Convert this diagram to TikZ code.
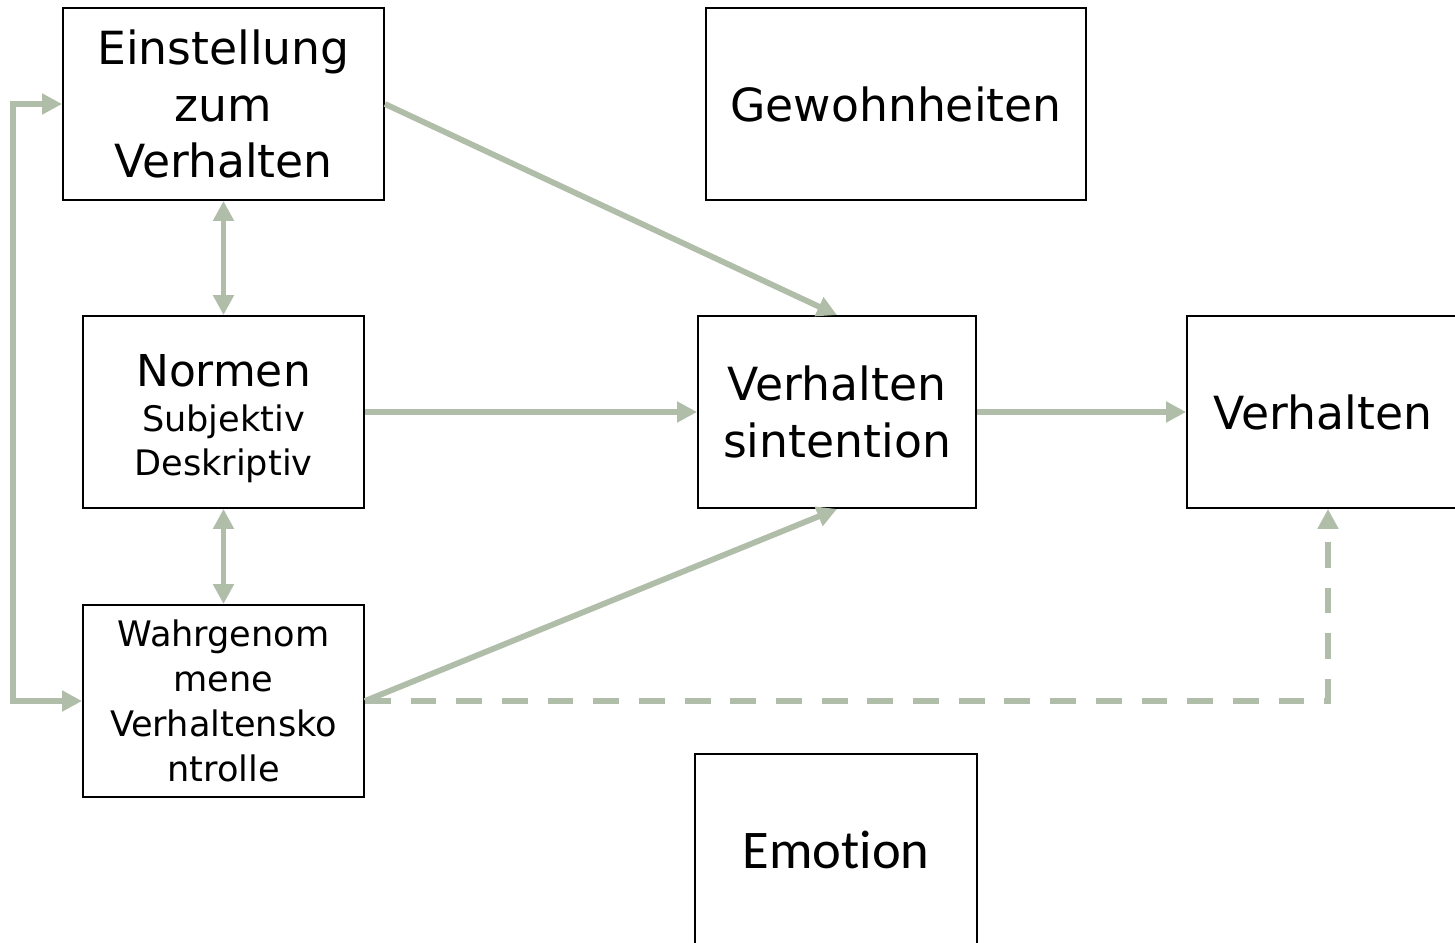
\documentclass[tikz,border=0pt]{standalone}
\usepackage{fontspec}
\setmainfont{DejaVu Sans}
\newfontfamily\emofont[Ligatures=NoCommon]{Carlito}
\usetikzlibrary{arrows.meta}
\definecolor{arrowgreen}{RGB}{176,189,168}

\begin{document}
\begin{tikzpicture}[x=0.02cm, y=-0.02cm]
    \tikzset{
        box/.style = {rectangle, draw, line width=1.1pt, align=center, inner sep=0pt, minimum height=3.84cm},
        big/.style = {font=\fontsize{26}{32.3}\selectfont},
        small/.style = {font=\fontsize{20}{25.5}\selectfont},
        line/.style = {draw=arrowgreen, line width=3.3pt, -{Triangle[length=11.3pt, width=11.3pt]}},
        both/.style = {line, {Triangle[length=11.3pt, width=11.3pt]}-{Triangle[length=11.3pt, width=11.3pt]}},
        weak/.style = {line, dash pattern=on 14.7pt off 11.3pt}
    }
    \useasboundingbox (0,0) rectangle (1455,943);
    \clip (0,0) rectangle (1455,943);

    \node[box, big, minimum width=6.42cm] (einst) at (223.5,104) {Einstellung\\zum\\Verhalten};
    \node[box, big, minimum width=7.6cm] (gewohn) at (896,104) {Gewohnheiten};
    \node[box, small, minimum width=5.62cm] (normen) at (223.5,412) {\rule{0pt}{26pt}{\fontsize{25}{30}\selectfont Normen}\\Subjektiv\\Deskriptiv};
    \node[box, big, minimum width=5.56cm] (vi) at (837,412) {Verhalten\\sintention};
    \node[box, big, minimum width=5.64cm] (verh) at (1328,412) {\hspace*{-0.2cm}Verhalten};
    \node[box, small, minimum width=5.62cm] (wahr) at (223.5,701) {Wahrgenom\\mene\\Verhaltensko\\ntrolle};
    \node[box, minimum width=5.64cm, font=\emofont\fontsize{31}{36}\selectfont] (emo) at (836,850) {Emotion};

    \path[line] (einst.east) -- (vi.north);
    \path[line] (normen.east) -- (vi.west);
    \path[line] (wahr.east) -- (vi.south);
    \path[line] (vi.east) -- (verh.west);
    \path[both] (einst.south) -- (normen.north);
    \path[both] (normen.south) -- (wahr.north);
    \path[both] (wahr.west) -- ++(-69,0) |- (einst.west);
    \path[weak] (wahr.east) -| (verh.south);
\end{tikzpicture}
\end{document}
